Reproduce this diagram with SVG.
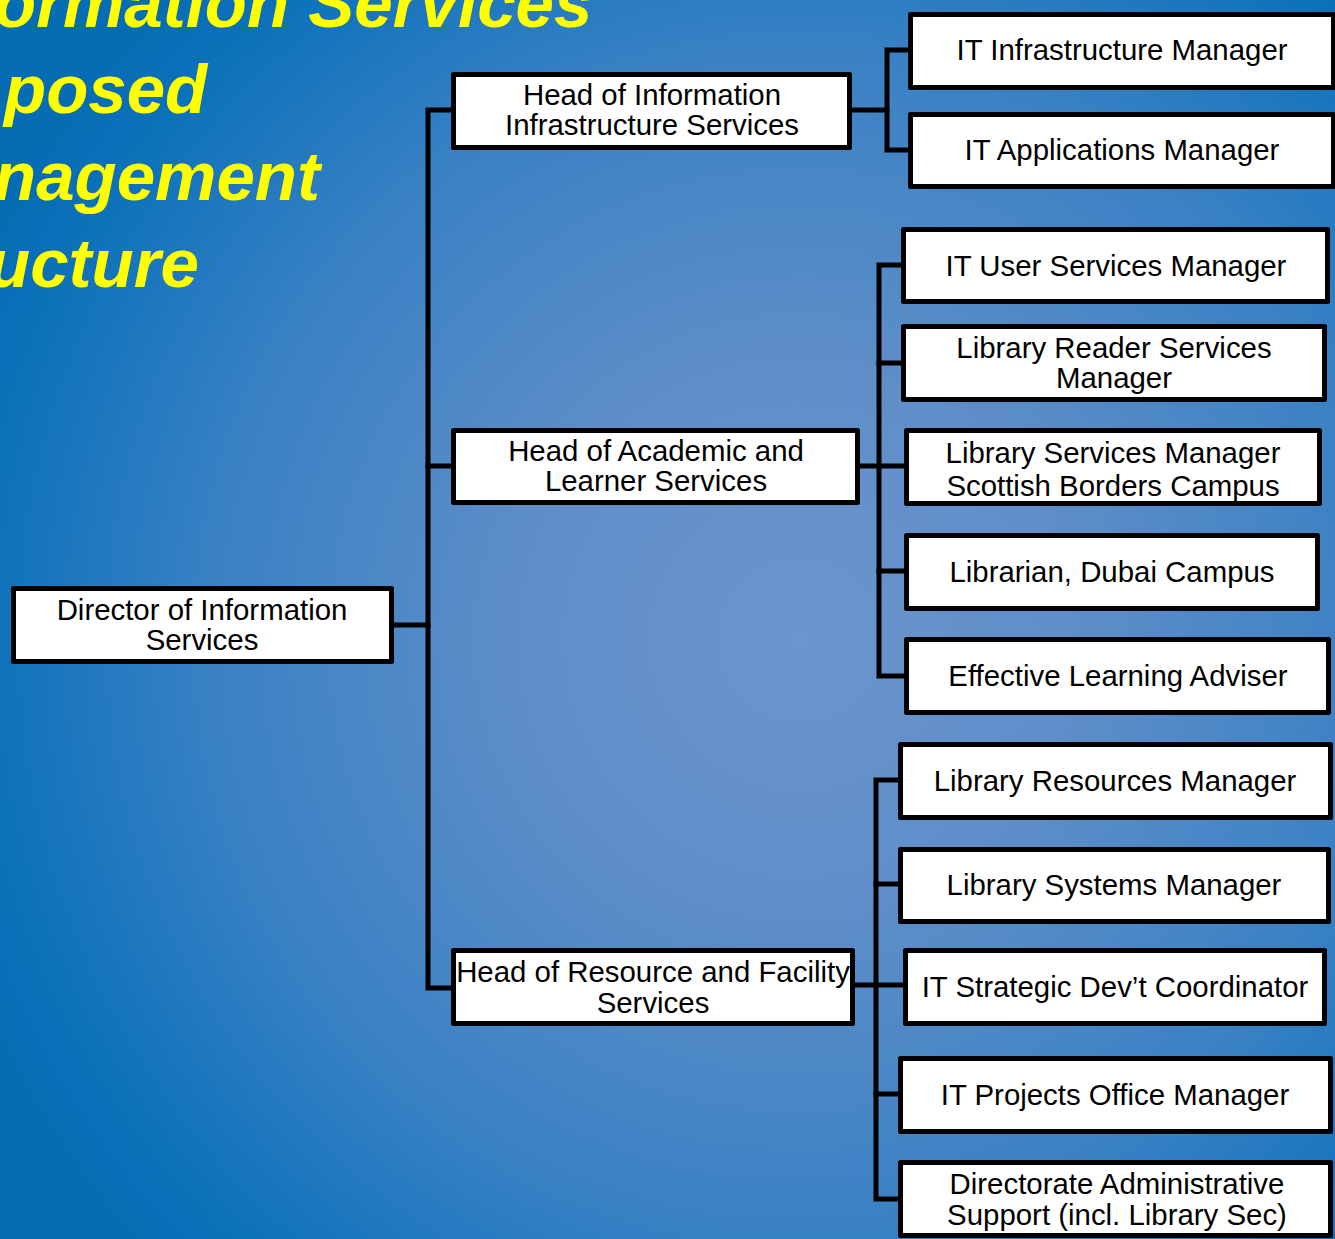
<svg xmlns="http://www.w3.org/2000/svg" width="1335" height="1239" viewBox="0 0 1335 1239">
  <defs>
    <radialGradient id="bg" gradientUnits="userSpaceOnUse" cx="800" cy="640" r="900">
      <stop offset="0" stop-color="#6b95cc"/>
      <stop offset="0.3" stop-color="#5f8ec9"/>
      <stop offset="0.65" stop-color="#3a81c4"/>
      <stop offset="0.9" stop-color="#0e72bb"/>
      <stop offset="1" stop-color="#066cb4"/>
    </radialGradient>
    <style>
      .box { fill: #ffffff; stroke: #000000; stroke-width: 5; stroke-linejoin: round; }
      .lbl { font-family: "Liberation Sans", Arial, sans-serif; font-size: 29.4px; fill: #000000; text-anchor: middle; dominant-baseline: central; }
      .title { font-family: "Liberation Sans", Arial, sans-serif; font-size: 69px; font-weight: bold; font-style: italic; fill: #ffff00; }
      .wire { fill: none; stroke: #000000; stroke-width: 5; stroke-linejoin: miter; stroke-linecap: square; }
    </style>
  </defs>

  <!-- backdrop -->
  <rect x="0" y="0" width="1335" height="1239" fill="url(#bg)"/>

  <!-- heading, running off the left edge -->
  <g id="title">
    <text class="title" x="-6" y="27">ormation Services</text>
    <text class="title" x="4" y="113">posed</text>
    <text class="title" x="-6" y="200">nagement</text>
    <text class="title" x="-12" y="287">ucture</text>
  </g>

  <!-- connectors -->
  <g id="connectors" class="wire">
    <!-- director to heads -->
    <path d="M393 625 H428"/>
    <path d="M451 110 H428 V988 H451"/>
    <path d="M428 466 H451"/>
    <!-- infrastructure branch -->
    <path d="M852 110 H887"/>
    <path d="M908 50 H887 V150 H908"/>
    <!-- academic branch -->
    <path d="M860 466 H904"/>
    <path d="M901 265 H879 V676 H904"/>
    <path d="M879 363 H901"/>
    <path d="M879 571 H904"/>
    <!-- resource branch -->
    <path d="M855 985 H903"/>
    <path d="M898 780 H876 V1199 H898"/>
    <path d="M876 884 H898"/>
    <path d="M876 1094 H898"/>
  </g>

  <!-- nodes -->
  <g id="director">
    <rect class="box" x="13.5" y="588.5" width="378" height="73"/>
    <text class="lbl" x="202" y="609">Director of Information</text>
    <text class="lbl" x="202" y="639">Services</text>
  </g>

  <g id="head-infrastructure">
    <rect class="box" x="453.5" y="74.5" width="396" height="73"/>
    <text class="lbl" x="652" y="94">Head of Information</text>
    <text class="lbl" x="652" y="124">Infrastructure Services</text>
  </g>

  <g id="head-academic">
    <rect class="box" x="453.5" y="430.5" width="404" height="72"/>
    <text class="lbl" x="656" y="450">Head of Academic and</text>
    <text class="lbl" x="656" y="480">Learner Services</text>
  </g>

  <g id="head-resource">
    <rect class="box" x="453.5" y="950.5" width="399" height="73"/>
    <text class="lbl" x="653" y="971">Head of Resource and Facility</text>
    <text class="lbl" x="653" y="1002">Services</text>
  </g>

  <g id="it-infrastructure">
    <rect class="box" x="910.5" y="14.5" width="423" height="73"/>
    <text class="lbl" x="1122" y="49">IT Infrastructure Manager</text>
  </g>

  <g id="it-applications">
    <rect class="box" x="910.5" y="114.5" width="423" height="72"/>
    <text class="lbl" x="1122" y="149">IT Applications Manager</text>
  </g>

  <g id="it-user-services">
    <rect class="box" x="903.5" y="229.5" width="424" height="72"/>
    <text class="lbl" x="1116" y="265">IT User Services Manager</text>
  </g>

  <g id="library-reader">
    <rect class="box" x="903.5" y="326.5" width="421" height="73"/>
    <text class="lbl" x="1114" y="347">Library Reader Services</text>
    <text class="lbl" x="1114" y="377">Manager</text>
  </g>

  <g id="library-borders">
    <rect class="box" x="906.5" y="430.5" width="413" height="73"/>
    <text class="lbl" x="1113" y="452">Library Services Manager</text>
    <text class="lbl" x="1113" y="485">Scottish Borders Campus</text>
  </g>

  <g id="librarian-dubai">
    <rect class="box" x="906.5" y="535.5" width="411" height="73"/>
    <text class="lbl" x="1112" y="571">Librarian, Dubai Campus</text>
  </g>

  <g id="learning-adviser">
    <rect class="box" x="906.5" y="639.5" width="422" height="73"/>
    <text class="lbl" x="1118" y="675">Effective Learning Adviser</text>
  </g>

  <g id="library-resources">
    <rect class="box" x="900.5" y="744.5" width="430" height="73"/>
    <text class="lbl" x="1115" y="780">Library Resources Manager</text>
  </g>

  <g id="library-systems">
    <rect class="box" x="900.5" y="849.5" width="428" height="72"/>
    <text class="lbl" x="1114" y="884">Library Systems Manager</text>
  </g>

  <g id="it-strategic">
    <rect class="box" x="905.5" y="950.5" width="419" height="73"/>
    <text class="lbl" x="1115" y="986">IT Strategic Dev’t Coordinator</text>
  </g>

  <g id="it-projects">
    <rect class="box" x="900.5" y="1058.5" width="430" height="73"/>
    <text class="lbl" x="1115" y="1094">IT Projects Office Manager</text>
  </g>

  <g id="admin-support">
    <rect class="box" x="900.5" y="1162.5" width="430" height="73"/>
    <text class="lbl" x="1117" y="1183">Directorate Administrative</text>
    <text class="lbl" x="1117" y="1214">Support (incl. Library Sec)</text>
  </g>
</svg>
